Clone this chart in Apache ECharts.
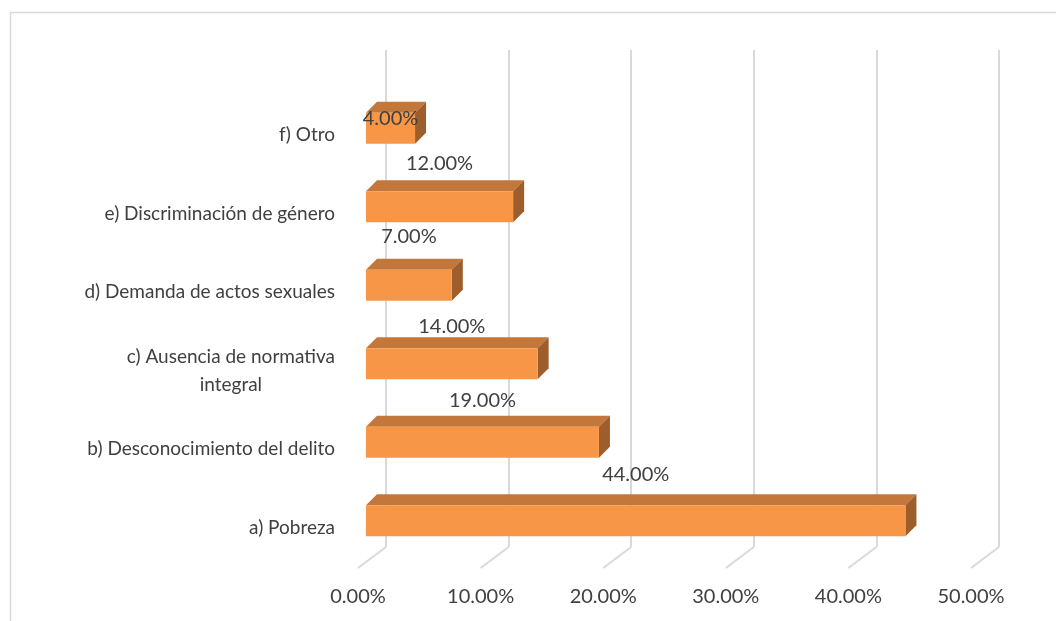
<!DOCTYPE html>
<html>
<head>
<meta charset="utf-8">
<script src="https://cdn.jsdelivr.net/npm/echarts@6/dist/echarts.min.js"></script>
<style>
  html, body { margin: 0; padding: 0; background: #fff; }
  #chart { width: 1056px; height: 621px; }
</style>
</head>
<body>
<div id="chart"></div>
<script>
// datos (porcentaje)
var categories = [
  "a) Pobreza",
  "b) Desconocimiento del delito",
  "c) Ausencia de normativa\nintegral",
  "d) Demanda de actos sexuales",
  "e) Discriminación de género",
  "f) Otro"
];
var values = [44, 19, 14, 7, 12, 4];
var tickValues = [0, 10, 20, 30, 40, 50];

// desplazamiento vertical de las etiquetas (como en el original de Excel)
var labelShift = [-53, -49, -44, -56, -50, -17];

var textColor = "#404040";
var font = "Lato, 'Open Sans', sans-serif";
var frontColor = "#F79646";
var topColor = "#C4773A";
var sideColor = "#9E5E2B";
var depth = 11;
var barH = 31;

var chart = echarts.init(document.getElementById("chart"));

var option = {
  animation: false,
  backgroundColor: "#fff",
  graphic: [{
    type: "rect",
    shape: { x: 10.5, y: 12.5, width: 1100, height: 700 },
    style: { fill: "none", stroke: "#d9d9d9", lineWidth: 1.5 },
    z: -10
  }],
  grid: [
    // pared del fondo (lineas de division)
    { left: 386, right: 57, top: 50, bottom: 74 },
    // plano frontal de las barras
    { left: 366, right: 77, top: 96, bottom: 54 }
  ],
  xAxis: [
    {
      gridIndex: 0, type: "value", min: 0, max: 50, interval: 10,
      axisLine: { show: false }, axisTick: { show: false },
      splitLine: { show: true, lineStyle: { color: "#d9d9d9", width: 2 } },
      axisLabel: {
        margin: 40, color: textColor, fontSize: 20, fontFamily: font,
        padding: [0, 56, 0, 0],
        formatter: function (v) { return v.toFixed(2) + "%"; }
      }
    },
    {
      gridIndex: 1, type: "value", min: 0, max: 50, interval: 10,
      show: false
    }
  ],
  yAxis: [
    {
      gridIndex: 0, type: "value", min: 0, max: 1, show: false
    },
    {
      gridIndex: 1, type: "category", data: categories,
      axisLine: { show: false }, axisTick: { show: false },
      splitLine: { show: false },
      axisLabel: {
        margin: 31, color: textColor, fontSize: 19, fontFamily: font,
        lineHeight: 28,
        formatter: function (v) {
          if (v.indexOf("\n") < 0) return v;
          var parts = v.split("\n");
          return "{a|" + parts[0] + "}\n{b|" + parts[1] + "}";
        },
        rich: {
          a: { color: textColor, fontSize: 19, fontFamily: font, lineHeight: 28 },
          b: { color: textColor, fontSize: 19, fontFamily: font, lineHeight: 28, align: "center" }
        }
      }
    }
  ],
  series: [
    {
      // lineas diagonales del suelo
      type: "custom",
      xAxisIndex: 0, yAxisIndex: 0,
      data: tickValues.map(function (t) { return [t, 0]; }),
      silent: true,
      z: 1,
      renderItem: function (params, api) {
        var p = api.coord([api.value(0), api.value(1)]);
        return {
          type: "line",
          shape: { x1: p[0], y1: p[1], x2: p[0] - 28, y2: p[1] + 21 },
          style: { stroke: "#d9d9d9", lineWidth: 2 }
        };
      }
    },
    {
      type: "custom",
      xAxisIndex: 1, yAxisIndex: 1,
      data: values.map(function (v, i) { return [v, i]; }),
      encode: { x: 0, y: 1 },
      z: 5,
      renderItem: function (params, api) {
        var idx = api.value(1);
        var end = api.coord([api.value(0), idx]);
        var base = api.coord([0, idx]);
        var top = end[1] - 7 - barH / 2;
        var x0 = base[0], x1 = end[0];
        return {
          type: "group",
          children: [
            {
              type: "polygon",
              shape: { points: [[x0, top], [x0 + depth, top - depth], [x1 + depth, top - depth], [x1, top]] },
              style: { fill: topColor }
            },
            {
              type: "polygon",
              shape: { points: [[x1, top], [x1 + depth, top - depth], [x1 + depth, top + barH - depth], [x1, top + barH]] },
              style: { fill: sideColor }
            },
            {
              type: "rect",
              shape: { x: x0, y: top, width: x1 - x0, height: barH },
              style: { fill: frontColor }
            },
            {
              type: "text",
              z2: 10,
              style: {
                x: (x0 + x1) / 2,
                y: end[1] + labelShift[idx],
                text: api.value(0).toFixed(2) + "%",
                fill: textColor,
                font: "20px " + font,
                align: "center",
                verticalAlign: "middle"
              }
            }
          ]
        };
      }
    }
  ]
};

chart.setOption(option);
</script>
</body>
</html>
